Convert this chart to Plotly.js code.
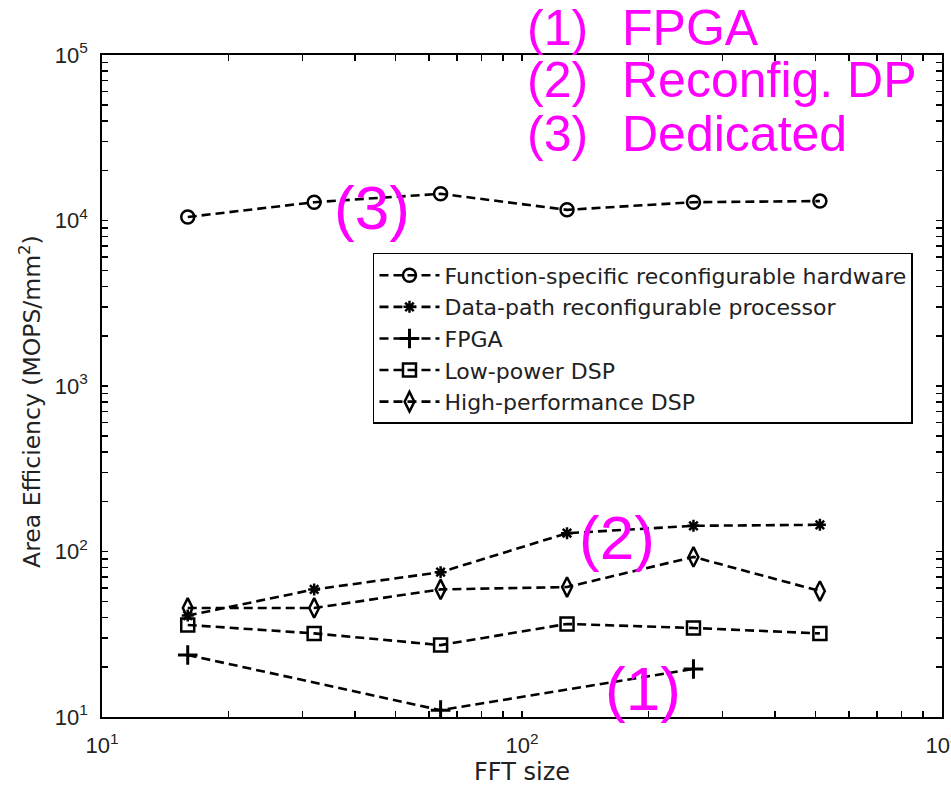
<!DOCTYPE html>
<html>
<head>
<meta charset="utf-8">
<script src="https://cdn.plot.ly/plotly-3.0.1.min.js"></script>
<style>html,body{margin:0;padding:0;background:#fff;}</style>
</head>
<body>
<div id="chart" style="width:951px;height:794px;"></div>
<script>
// ---- data ----
var fftSizes = [16, 32, 64, 128, 256, 512];
var fpgaSizes = [16, 64, 256];
var functionSpecific = [10500, 12900, 14500, 11600, 12900, 13100];
var dataPath = [41, 59, 75, 129, 143, 145];
var fpga = [23.7, 11, 19.5];
var lowPowerDSP = [36, 32, 27.2, 36.5, 34.5, 32];
var highPerfDSP = [45.6, 45.6, 59, 61, 92.7, 57.7];
var seriesNames = ["Function-specific reconfigurable hardware", "Data-path reconfigurable processor", "FPGA", "Low-power DSP", "High-performance DSP"];
var decadeTicks = [10, 100, 1000, 10000, 100000];
var decadeLabels = ["10<sup>1</sup>", "10<sup>2</sup>", "10<sup>3</sup>", "10<sup>4</sup>", "10<sup>5</sup>"];
var keyLabels = ["(1)", "(2)", "(3)"];
var keyTexts = ["FPGA", "Reconfig. DP", "Dedicated"];
var xTitle = "FFT size";
var yTitle = "Area Efficiency (MOPS/mm<sup>2</sup>)";

// tick positions (all log-decade subdivisions), labels only on decades
function logTicks(lo, hi) {
  var vals = [], txt = [];
  for (var d = lo; d < hi; d++) {
    for (var m = 1; m <= 9; m++) {
      var v = m * Math.pow(10, d);
      vals.push(v);
      var k = decadeTicks.indexOf(v);
      txt.push(m === 1 && k >= 0 ? decadeLabels[k] : "");
    }
  }
  var top = Math.pow(10, hi);
  vals.push(top);
  var kt = decadeTicks.indexOf(top);
  txt.push(kt >= 0 ? decadeLabels[kt] : "");
  return {vals: vals, txt: txt};
}
var xt = logTicks(1, 3);
var yt = logTicks(1, 5);

var lineStyle = {color: "black", width: 2.6, dash: "9px,5px"};
function mk(sym, size, w) {
  return {symbol: sym, size: size, color: "black", line: {color: "black", width: w}};
}
var traces = [
  {x: fftSizes, y: functionSpecific, name: seriesNames[0], mode: "lines+markers", line: lineStyle, marker: mk("circle-open", 13, 2.5), legendgroup: "a"},
  {x: fftSizes, y: dataPath, name: seriesNames[1], mode: "lines+markers", line: lineStyle, marker: mk("asterisk-open", 10, 2.5), legendgroup: "b"},
  {x: fpgaSizes, y: fpga, name: seriesNames[2], mode: "lines+markers", line: lineStyle, marker: mk("cross-thin-open", 14, 3), legendgroup: "c"},
  {x: fftSizes, y: lowPowerDSP, name: seriesNames[3], mode: "lines+markers", line: lineStyle, marker: mk("square-open", 13, 2.5), legendgroup: "d"},
  {x: fftSizes, y: highPerfDSP, name: seriesNames[4], mode: "lines+markers", line: lineStyle, marker: mk("diamond-tall-open", 14, 2.5), legendgroup: "e"}
];

var magenta = "#FF00FF";
var bigFont = {family: "Liberation Sans, Arial, sans-serif", size: 50, color: magenta};
var plotFont = {family: "Liberation Sans, Arial, sans-serif", size: 62, color: magenta};
var annotations = [];
var keyY = [1.0415, 0.9615, 0.880];
for (var i = 0; i < 3; i++) {
  annotations.push({xref: "paper", yref: "paper", x: 0.503, y: keyY[i], xanchor: "left", yanchor: "middle", text: keyLabels[i], showarrow: false, font: bigFont});
  annotations.push({xref: "paper", yref: "paper", x: 0.617, y: keyY[i], xanchor: "left", yanchor: "middle", text: keyTexts[i], showarrow: false, font: bigFont});
}
annotations.push({xref: "paper", yref: "paper", x: 0.3214, y: 0.770, xanchor: "center", yanchor: "middle", text: keyLabels[2], showarrow: false, font: plotFont});
annotations.push({xref: "paper", yref: "paper", x: 0.6131, y: 0.2719, xanchor: "center", yanchor: "middle", text: keyLabels[1], showarrow: false, font: plotFont});
annotations.push({xref: "paper", yref: "paper", x: 0.644, y: 0.0438, xanchor: "center", yanchor: "middle", text: keyLabels[0], showarrow: false, font: plotFont});
// y-axis title as a rotated annotation for exact placement
annotations.push({xref: "paper", yref: "paper", x: -0.0845, y: 0.476, xanchor: "center", yanchor: "middle", textangle: -90,
                  text: yTitle, showarrow: false, font: {family: "DejaVu Sans, sans-serif", size: 23.5, color: "#222"}});

var tickFont = {family: "Liberation Sans, Arial, sans-serif", size: 22, color: "#222"};

var layout = {
  width: 951, height: 794,
  margin: {l: 102, r: 9, t: 55, b: 77, pad: 0},
  paper_bgcolor: "white", plot_bgcolor: "white",
  showlegend: true,
  legend: {x: 0.3226, y: 0.701, xanchor: "left", yanchor: "top", bgcolor: "white", bordercolor: "black", borderwidth: 1.5,
           font: {family: "DejaVu Sans, sans-serif", size: 22, color: "#222"}, itemwidth: 60, tracegroupgap: 0, traceorder: "normal"},
  xaxis: {type: "log", range: [1, 3], tickvals: xt.vals, ticktext: xt.txt, ticks: "inside", ticklen: 6, tickwidth: 1.5, tickcolor: "black",
          showline: true, linecolor: "black", linewidth: 1.8, mirror: "allticks", showgrid: false, zeroline: false,
          tickfont: tickFont, ticklabelstandoff: 8, ticklabeloverflow: "allow",
          title: {text: xTitle, font: {family: "DejaVu Sans, sans-serif", size: 24, color: "#222"}, standoff: 6}, automargin: false},
  yaxis: {type: "log", range: [1, 5], tickvals: yt.vals, ticktext: yt.txt, ticks: "inside", ticklen: 6, tickwidth: 1.5, tickcolor: "black",
          showline: true, linecolor: "black", linewidth: 1.8, mirror: "allticks", showgrid: false, zeroline: false,
          tickfont: tickFont, ticklabelstandoff: 8, ticklabeloverflow: "allow", automargin: false},
  annotations: annotations
};

Plotly.newPlot("chart", traces, layout, {displayModeBar: false, staticPlot: true});
</script>
</body>
</html>
